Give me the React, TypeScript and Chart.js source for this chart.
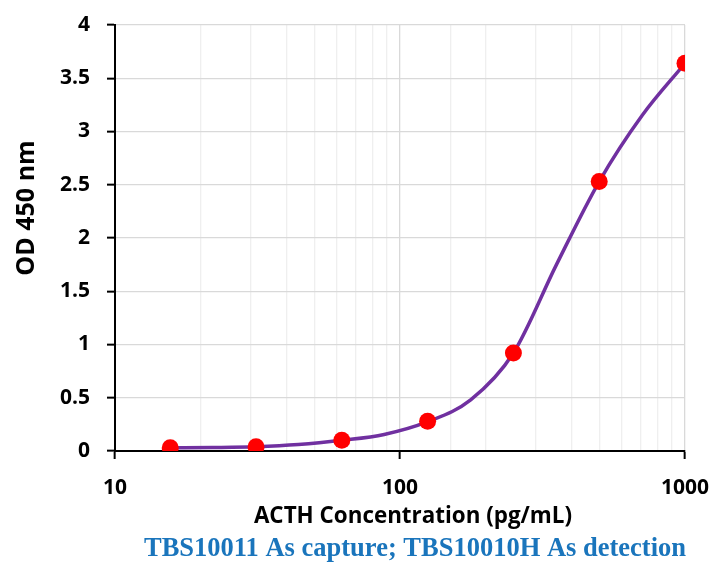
import React, { useEffect, useRef } from "react";
import { Chart, registerables } from "chart.js";

Chart.register(...registerables);

// Standard concentrations (pg/mL) and measured OD
const pointX = [15.625, 31.25, 62.5, 125, 250, 500, 1000];
const pointY = [0.03, 0.04, 0.1, 0.28, 0.92, 2.53, 3.64];

// Fitted curve
const curveX = [15.625, 22, 31.25, 44, 62.5, 88, 125, 177, 250, 354, 500, 707, 1000];
const curveY = [0.03, 0.033, 0.04, 0.06, 0.1, 0.155, 0.275, 0.48, 0.92, 1.75, 2.53, 3.15, 3.64];

const xTickLabels = [10, 100, 1000];
const yTitle = "OD 450 nm";
const xTitle = "ACTH Concentration (pg/mL)";
const caption = "TBS10011 As capture; TBS10010H As detection";

const sansFont = "'Open Sans', 'DejaVu Sans', sans-serif";

const textPlugin = {
  id: "customTexts",
  afterDraw(chart: any) {
    const ctx = chart.ctx;
    ctx.save();
    ctx.fillStyle = "#000";
    ctx.font = `bold 25px ${sansFont}`;
    ctx.textAlign = "center";
    ctx.textBaseline = "middle";
    ctx.translate(27, 208);
    ctx.rotate(-Math.PI / 2);
    ctx.fillText(yTitle, 0, 0);
    ctx.restore();

    ctx.save();
    ctx.fillStyle = "#000";
    ctx.font = `bold 22.4px ${sansFont}`;
    ctx.textAlign = "center";
    ctx.textBaseline = "middle";
    ctx.fillText(xTitle, 413, 517);
    ctx.restore();

    ctx.save();
    ctx.fillStyle = "#1A75BC";
    ctx.font = `bold 26.5px 'Liberation Serif', 'Times New Roman', serif`;
    ctx.textAlign = "center";
    ctx.textBaseline = "alphabetic";
    ctx.fillText(caption, 415, 556);
    ctx.restore();
  },
};

export default function App() {
  const ref = useRef<HTMLCanvasElement>(null);
  useEffect(() => {
    document.body.style.margin = "0";
    const canvas = ref.current;
    if (!canvas) return;
    const isMajor = (v: number) => xTickLabels.includes(Math.round(v));
    const chart = new Chart(canvas, {
      type: "scatter",
      data: {
        datasets: [
          {
            label: "points",
            data: pointX.map((x, i) => ({ x, y: pointY[i] })),
            showLine: false,
            pointRadius: 8.5,
            pointHoverRadius: 8.5,
            pointBackgroundColor: "#FF0000",
            pointBorderColor: "#FF0000",
            pointBorderWidth: 0,
            order: 0,
          },
          {
            label: "curve",
            data: curveX.map((x, i) => ({ x, y: curveY[i] })),
            showLine: true,
            borderColor: "#7030A0",
            borderWidth: 3.5,
            pointRadius: 0,
            cubicInterpolationMode: "monotone",
            order: 1,
          },
        ],
      },
      options: {
        responsive: false,
        animation: false,
        layout: { padding: { top: 25, right: 30, left: 0, bottom: 0 } },
        plugins: {
          legend: { display: false },
          tooltip: { enabled: false },
          title: { display: false },
        },
        scales: {
          x: {
            type: "logarithmic",
            min: 10,
            max: 1000,
            afterFit: (s: any) => {
              s.height = 111;
              s.paddingLeft = 0;
              s.paddingRight = 0;
            },
            border: { display: true, color: "#000", width: 2 },
            grid: {
              color: (c: any) => (c.tick && isMajor(c.tick.value) ? "#D9D9D9" : "#EFEFEF"),
              lineWidth: 1.3,
              tickLength: 8,
              tickColor: (c: any) => (c.tick && isMajor(c.tick.value) ? "#000" : "rgba(0,0,0,0)"),
              tickWidth: 2,
            },
            ticks: {
              autoSkip: false,
              maxRotation: 0,
              padding: 16,
              color: "#000",
              font: { family: sansFont, size: 21, weight: "bold" },
              callback: (v: any) => (isMajor(Number(v)) ? String(Math.round(Number(v))) : ""),
            },
          },
          y: {
            min: 0,
            max: 4,
            afterFit: (s: any) => {
              s.width = 115;
              s.paddingTop = 0;
              s.paddingBottom = 0;
            },
            border: { display: true, color: "#000", width: 2 },
            grid: {
              color: "#D9D9D9",
              lineWidth: 1.3,
              tickLength: 8,
              tickColor: "#000",
              tickWidth: 2,
            },
            ticks: {
              stepSize: 0.5,
              padding: 17,
              color: "#000",
              font: { family: sansFont, size: 21, weight: "bold" },
              callback: (v: any) => String(Number(v)),
            },
          },
        },
      },
      plugins: [textPlugin],
    } as any);
    return () => chart.destroy();
  }, []);
  return (
    <div style={{ width: 715, height: 562, position: "relative" }}>
      <canvas ref={ref} width={715} height={562} style={{ display: "block" }} />
    </div>
  );
}
